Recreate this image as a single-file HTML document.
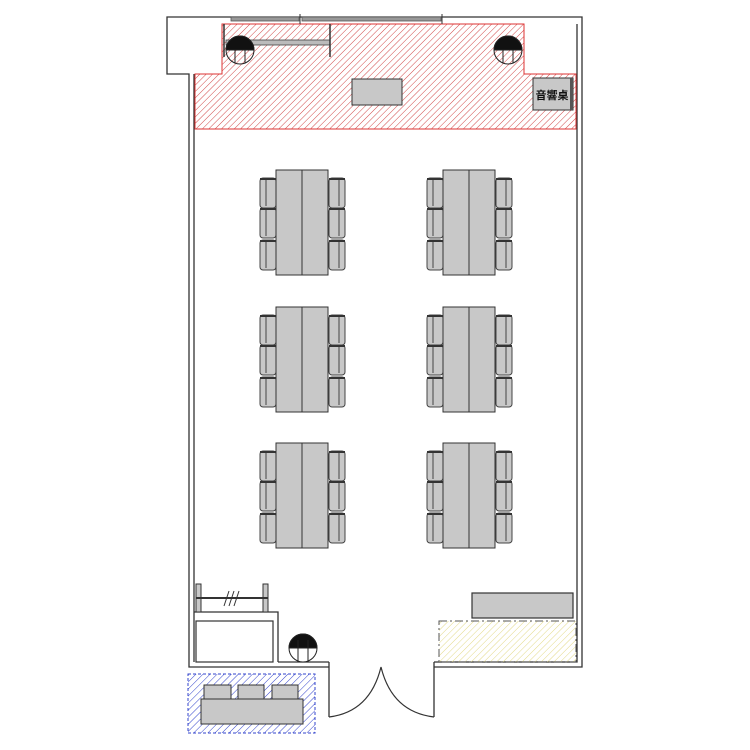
<!DOCTYPE html>
<html><head><meta charset="utf-8"><style>html,body{margin:0;padding:0;background:#fff}svg{display:block}</style></head>
<body>
<svg width="750" height="750" viewBox="0 0 750 750" xmlns="http://www.w3.org/2000/svg">
<defs>
<pattern id="red" patternUnits="userSpaceOnUse" width="4.5" height="4.5" patternTransform="rotate(45)">
<line x1="0" y1="0" x2="0" y2="4.5" stroke="#cc3333" stroke-width="0.9"/></pattern>
<pattern id="yel" patternUnits="userSpaceOnUse" width="4.5" height="4.5" patternTransform="rotate(45)">
<line x1="0" y1="0" x2="0" y2="4.5" stroke="#e0d67a" stroke-width="0.9"/></pattern>
<pattern id="blu" patternUnits="userSpaceOnUse" width="5" height="5" patternTransform="rotate(45)">
<line x1="0" y1="0" x2="0" y2="5" stroke="#3344cc" stroke-width="1"/></pattern>
<g id="chairL">
<rect x="0" y="0" width="16" height="30" rx="3" fill="#c8c8c8" stroke="#444" stroke-width="1"/>
<line x1="6" y1="2" x2="6" y2="28" stroke="#444"/>
<line x1="0" y1="1" x2="16" y2="1" stroke="#333" stroke-width="2"/>
</g>
<g id="grp">
<use href="#chairL" x="-16" y="8"/>
<use href="#chairL" x="-16" y="38"/>
<use href="#chairL" x="-16" y="70"/>
<use href="#chairL" transform="translate(69,8) scale(-1,1)"/>
<use href="#chairL" transform="translate(69,38) scale(-1,1)"/>
<use href="#chairL" transform="translate(69,70) scale(-1,1)"/>
<rect x="0" y="0" width="26" height="105" fill="#c8c8c8" stroke="#333"/>
<rect x="26" y="0" width="26" height="105" fill="#c8c8c8" stroke="#333"/>
</g>
</defs>

<g fill="none" stroke="#333" stroke-width="1.3">
<polyline points="329,667 189,667 189,74 167,74 167,17 582,17 582,667 434,667"/>
<polyline points="194,662 194,74"/>
<polyline points="577,24 577,662 434,662"/>
<line x1="329" y1="662" x2="278" y2="662"/>
<line x1="329" y1="662" x2="329" y2="717"/>
<line x1="434" y1="662" x2="434" y2="717"/>
<polyline points="194,612 278,612 278,662"/>
</g>
<path d="M329,717 Q370,712 381,667 Q392,712 434,717" fill="none" stroke="#333" stroke-width="1.2"/>

<polygon points="222,24 524,24 524,74 576,74 576,129 195,129 195,74 222,74" fill="url(#red)" stroke="#d33" stroke-width="1"/>
<rect x="231" y="17" width="68" height="4" fill="#999" stroke="#555" stroke-width="0.8"/>
<rect x="302" y="17" width="139" height="4" fill="#999" stroke="#555" stroke-width="0.8"/>
<line x1="300" y1="14" x2="300" y2="24" stroke="#333"/>
<line x1="442" y1="14" x2="442" y2="24" stroke="#333"/>
<rect x="226" y="40" width="104" height="5" fill="#bbb" stroke="#444" stroke-width="0.8"/>
<line x1="330" y1="24" x2="330" y2="57" stroke="#333" stroke-width="1.5"/>
<line x1="224" y1="24" x2="224" y2="57" stroke="#333" stroke-width="1.5"/>
<g stroke="#222" stroke-width="1">
<circle cx="240" cy="50" r="14" fill="none"/>
<path d="M226,50 A14,14 0 0 1 254,50 Z" fill="#111"/>
<line x1="235" y1="50" x2="235" y2="63"/><line x1="245" y1="50" x2="245" y2="63"/>
<circle cx="508" cy="50" r="14" fill="none"/>
<path d="M494,50 A14,14 0 0 1 522,50 Z" fill="#111"/>
<line x1="503" y1="50" x2="503" y2="63"/><line x1="513" y1="50" x2="513" y2="63"/>
<circle cx="303" cy="648" r="14" fill="#fff"/>
<path d="M289,648 A14,14 0 0 1 317,648 Z" fill="#111"/>
<line x1="298" y1="640" x2="298" y2="661"/><line x1="308" y1="640" x2="308" y2="661"/>
</g>
<rect x="352" y="79" width="50" height="26" fill="#c8c8c8" stroke="#333"/>
<rect x="533" y="78" width="40" height="32" fill="#c8c8c8" stroke="#333"/>
<rect x="570" y="78" width="3" height="32" fill="#555"/>
<text x="552" y="99" font-family="'Liberation Sans','Noto Sans CJK SC',sans-serif" font-size="11" font-weight="bold" text-anchor="middle" fill="#111">音響桌</text>

<use href="#grp" x="276" y="170"/>
<use href="#grp" x="443" y="170"/>
<use href="#grp" x="276" y="307"/>
<use href="#grp" x="443" y="307"/>
<use href="#grp" x="276" y="443"/>
<use href="#grp" x="443" y="443"/>

<g stroke="#333">
<rect x="196" y="584" width="5" height="28" fill="#c8c8c8"/>
<rect x="263" y="584" width="5" height="28" fill="#c8c8c8"/>
<line x1="196" y1="598" x2="268" y2="598" stroke-width="2"/>
<line x1="224" y1="606" x2="229" y2="591"/><line x1="229" y1="606" x2="234" y2="591"/><line x1="234" y1="606" x2="239" y2="591"/>
</g>
<rect x="196" y="621" width="77" height="41" fill="#fff" stroke="#333" stroke-width="1.2"/>

<rect x="472" y="593" width="101" height="25" fill="#c8c8c8" stroke="#333" stroke-width="1.2"/>
<rect x="439" y="621" width="137" height="41" fill="url(#yel)" stroke="#555" stroke-width="1" stroke-dasharray="8,3,2,3"/>

<rect x="188" y="674" width="127" height="59" fill="url(#blu)" stroke="#3344cc" stroke-width="1" stroke-dasharray="3,2"/>
<g fill="#c8c8c8" stroke="#333">
<rect x="204" y="685" width="27" height="14"/>
<rect x="238" y="685" width="26" height="14"/>
<rect x="272" y="685" width="26" height="14"/>
<rect x="201" y="699" width="102" height="25"/>
</g>
</svg>
</body></html>
